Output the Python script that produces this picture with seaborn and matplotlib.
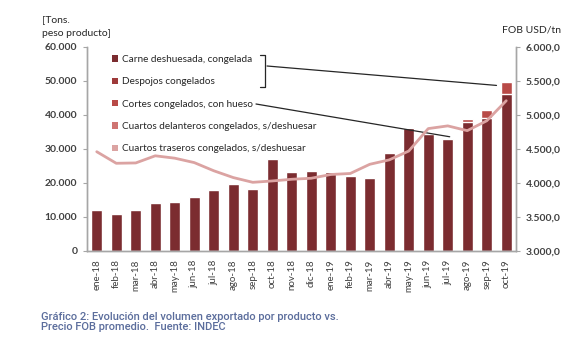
import numpy as np
import pandas as pd
import seaborn as sns
import matplotlib.pyplot as plt
from matplotlib.patches import Patch
from matplotlib.lines import Line2D
from matplotlib.ticker import FuncFormatter, MultipleLocator

# Data
months = ["ene-18", "feb-18", "mar-18", "abr-18", "may-18", "jun-18", "jul-18",
          "ago-18", "sep-18", "oct-18", "nov-18", "dic-18", "ene-19", "feb-19",
          "mar-19", "abr-19", "may-19", "jun-19", "jul-19", "ago-19", "sep-19", "oct-19"]
carne = [12200, 11000, 12100, 14200, 14400, 15800, 17900, 19600, 18200, 27000, 23200,
         23500, 23200, 22000, 21500, 28700, 36200, 34400, 33000, 37800, 39100, 46100]
cortes = [0, 0, 0, 0, 0, 0, 0, 0, 0, 0, 0,
          0, 0, 0, 0, 0, 0, 0, 0, 1100, 2500, 3700]
precio_fob = [4460, 4290, 4295, 4400, 4365, 4300, 4180, 4080, 4010, 4030, 4055,
              4070, 4125, 4140, 4275, 4340, 4470, 4800, 4840, 4770, 4915, 5210]

legend_labels = ["Carne deshuesada, congelada", "Despojos congelados",
                 "Cortes congelados, con hueso", "Cuartos delanteros congelados, s/deshuesar",
                 "Cuartos traseros congelados, s/deshuesar"]
legend_colors = ["#7b2c30", "#9e3a3a", "#b84a47", "#cf7472", "#dba3a2"]

df = pd.DataFrame({"mes": months, "carne": carne, "cortes": cortes, "fob": precio_fob})
df["total"] = df["carne"] + df["cortes"]
df["idx"] = np.arange(len(df))

sns.set_style("white")
plt.rcParams["font.family"] = ["Lato", "DejaVu Sans"]

W, H = 579, 353
fig = plt.figure(figsize=(W / 100, H / 100), dpi=100)
ax = fig.add_axes([87 / W, 1 - 251 / H, (516 - 87) / W, (251 - 47) / H])

# stacked bars: total first, then the base layer over it
sns.barplot(data=df, x="mes", y="total", order=months, color=legend_colors[2],
            saturation=1, width=0.58, ax=ax)
sns.barplot(data=df, x="mes", y="carne", order=months, color=legend_colors[0],
            saturation=1, width=0.58, ax=ax)

ax.set_xlim(-0.5, len(months) - 0.5)
ax.set_ylim(0, 60000)
ax.yaxis.set_major_locator(MultipleLocator(10000))
ax.yaxis.set_major_formatter(FuncFormatter(lambda v, p: f"{int(v):,}".replace(",", ".")))
ax.set_xlabel("")
ax.set_ylabel("")

ax2 = ax.twinx()
sns.lineplot(data=df, x="idx", y="fob", color=legend_colors[4], lw=2.0, ax=ax2)
ax2.set_ylim(3000, 6000)
ax2.yaxis.set_major_locator(MultipleLocator(500))
ax2.yaxis.set_major_formatter(
    FuncFormatter(lambda v, p: f"{v:,.1f}".replace(",", "X").replace(".", ",").replace("X", ".")))
ax2.set_xlabel("")
ax2.set_ylabel("")
ax2.set_xlim(-0.5, len(months) - 0.5)

spine_c = "#a6a6a6"
for a in (ax, ax2):
    a.spines["top"].set_visible(False)
    for s in ("left", "right", "bottom"):
        a.spines[s].set_color(spine_c)
        a.spines[s].set_linewidth(1.0)

ax.tick_params(axis="y", length=3, color=spine_c, labelsize=7.5, labelcolor="#404040", pad=4)
ax2.tick_params(axis="y", length=3, color=spine_c, labelsize=7.5, labelcolor="#404040", pad=4)
for lab in ax.get_yticklabels() + ax2.get_yticklabels():
    lab.set_fontweight("bold")

# x ticks at category boundaries, labels rotated
ax.set_xticks(np.arange(len(months)))
ax.set_xticklabels(months, rotation=90, fontsize=7, color="#404040")
ax.set_xticks(np.arange(-0.5, len(months)), minor=True)
ax.tick_params(axis="x", which="major", length=0, pad=6)
ax.tick_params(axis="x", which="minor", length=4, color=spine_c, direction="out")

# legend
handles = [Patch(facecolor=c, edgecolor="none") for c in legend_colors]
leg = ax2.legend(handles, legend_labels, loc="upper left", bbox_to_anchor=(112 / W, 1 - 55 / H),
                 bbox_transform=fig.transFigure, frameon=False, fontsize=7.2,
                 labelspacing=1.33, handlelength=0.6, handleheight=0.6,
                 handletextpad=0.45, borderpad=0, borderaxespad=0)
for t in leg.get_texts():
    t.set_color("#262626")

# bracket and leader lines
def fx(x):
    return x / W

def fy(y):
    return 1 - y / H

fig.add_artist(Line2D([fx(260), fx(265), fx(265), fx(260)], [fy(55), fy(55), fy(87), fy(87)],
                      color="#262626", lw=0.9, transform=fig.transFigure))
ax.annotate("", xy=(20.5, 48700), xycoords="data", xytext=(fx(267), fy(66)),
            textcoords="figure fraction",
            arrowprops=dict(arrowstyle="-", color="#262626", lw=0.9, shrinkA=0, shrinkB=0))
ax.annotate("", xy=(18.1, 33600), xycoords="data", xytext=(fx(256), fy(104)),
            textcoords="figure fraction",
            arrowprops=dict(arrowstyle="-", color="#262626", lw=0.9, shrinkA=0, shrinkB=0))

# axis titles
fig.text(fx(42), fy(20), "[Tons.", fontsize=7.5, color="#262626", va="center", ha="left")
fig.text(fx(42), fy(34), "peso producto]", fontsize=7.5, color="#262626", va="center", ha="left")
fig.text(fx(531), fy(30), "FOB USD/tn", fontsize=7.5, color="#262626", va="center", ha="center")

# caption
fig.text(fx(41), fy(322), "Gráfico 2: Evolución del volumen exportado por producto vs.\n"
         "Precio FOB promedio.  Fuente: INDEC", fontsize=8, color="#5b6d9c",
         family=["Roboto", "DejaVu Sans"], fontweight="medium", va="center", ha="left",
         linespacing=1.05)

fig.savefig("out.png", dpi=100)
